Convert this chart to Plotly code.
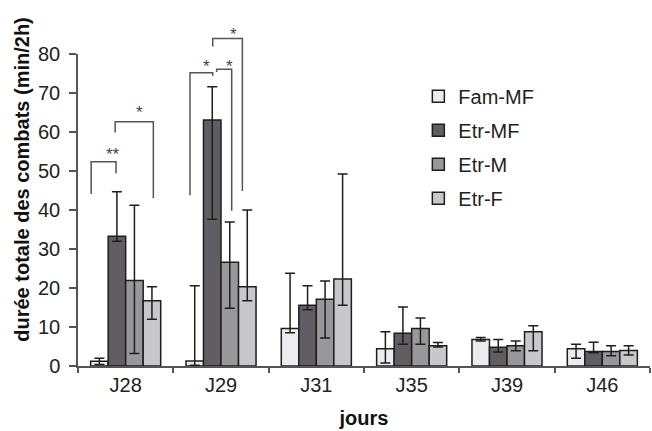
import plotly.graph_objects as go

# ---------------- data ----------------
days = ["J28", "J29", "J31", "J35", "J39", "J46"]
series_names = ["Fam-MF", "Etr-MF", "Etr-M", "Etr-F"]

fam_mf = [1.2, 1.3, 9.6, 4.4, 6.8, 4.4]
fam_mf_hi = [2.0, 20.6, 23.8, 8.8, 7.3, 5.6]
fam_mf_lo = [0.4, 0.2, 8.5, 0.8, 6.4, 2.0]

etr_mf = [33.3, 63.1, 15.6, 8.4, 4.8, 3.7]
etr_mf_hi = [44.7, 71.6, 20.6, 15.1, 6.8, 6.1]
etr_mf_lo = [32.0, 37.6, 14.4, 5.6, 3.6, 3.4]

etr_m = [21.9, 26.6, 17.1, 9.6, 5.2, 3.7]
etr_m_hi = [41.2, 36.9, 21.8, 12.3, 6.4, 5.2]
etr_m_lo = [3.2, 14.8, 7.2, 5.6, 3.9, 2.6]

etr_f = [16.7, 20.3, 22.3, 5.2, 8.8, 4.0]
etr_f_hi = [20.3, 40.0, 49.2, 6.0, 10.3, 5.2]
etr_f_lo = [12.0, 16.7, 15.6, 4.9, 3.9, 2.8]

y_ticks = [0, 10, 20, 30, 40, 50, 60, 70, 80]

# significance brackets: group, left leg (offset in bar widths), right leg,
# left leg bottom, top, right leg bottom, label, label height
brackets = [
    (0, -1.97, -0.55, 44.1, 52.4, 49.4, "**", 55.6),
    (0, -0.60, 1.58, 59.9, 62.6, 43.0, "*", 66.2),
    (1, -1.77, -0.47, 43.8, 75.2, 74.4, "*", 78.0),
    (1, -0.25, 0.61, 75.4, 76.1, 39.8, "*", 78.0),
    (1, -0.47, 1.22, 81.9, 84.0, 44.9, "*", 86.3),
]

colors = ["#ececee", "#605e63", "#98979a", "#c8c8ca"]
values = [fam_mf, etr_mf, etr_m, etr_f]
his = [fam_mf_hi, etr_mf_hi, etr_m_hi, etr_f_hi]
los = [fam_mf_lo, etr_mf_lo, etr_m_lo, etr_f_lo]

FONT = "Liberation Sans, Arial, sans-serif"
BARGAP = 0.265
YMAX = 80
bar_w = (1 - BARGAP) / 4

fig = go.Figure()
for name, col, v, hi, lo in zip(series_names, colors, values, his, los):
    fig.add_trace(go.Bar(
        name=name, x=days, y=v,
        marker=dict(color=col, line=dict(color="#1e1e1e", width=1.5)),
        error_y=dict(type="data", symmetric=False,
                     array=[h - a for h, a in zip(hi, v)],
                     arrayminus=[a - l for a, l in zip(v, lo)],
                     color="#1e1e1e", thickness=1.5, width=5),
        legendgroup=name,
    ))

def px(cat):
    return (cat + 0.5) / len(days)

def py(val):
    return val / YMAX

for g, l_off, r_off, lb, top, rb, lab, ly in brackets:
    xl = px(g + l_off * bar_w)
    xr = px(g + r_off * bar_w)
    fig.add_shape(type="path", xref="paper", yref="paper",
                  path=f"M {xl},{py(lb)} L {xl},{py(top)} L {xr},{py(top)} L {xr},{py(rb)}",
                  line=dict(color="#555555", width=1.5))
    fig.add_annotation(xref="paper", yref="paper", x=(xl + xr) / 2, y=py(ly),
                       text=lab, showarrow=False, yanchor="middle", yshift=-5,
                       font=dict(family=FONT, size=17, color="#444444"))

fig.add_annotation(xref="paper", yref="paper", x=-0.098, y=0.6,
                   text="durée totale des combats (min/2h)", textangle=-90,
                   showarrow=False, xanchor="center", yanchor="middle",
                   font=dict(family=FONT, size=20, color="#111111", weight="bold"))

fig.update_layout(
    width=652, height=431,
    margin=dict(l=78, r=2, t=54, b=65),
    paper_bgcolor="white", plot_bgcolor="white",
    barmode="group", bargap=BARGAP, bargroupgap=0,
    font=dict(family=FONT, size=20, color="#222222"),
    showlegend=True,
    legend=dict(x=0.595, y=0.927, xanchor="left", yanchor="top",
                font=dict(family=FONT, size=20, color="#222222"),
                tracegroupgap=5, bgcolor="rgba(0,0,0,0)"),
    xaxis=dict(showline=True, linecolor="#555555", linewidth=1.5,
               ticks="outside", tickson="boundaries", ticklen=5,
               tickcolor="#555555", tickwidth=1.5, showgrid=False,
               title=dict(text="jours", standoff=16,
                          font=dict(family=FONT, size=20, weight="bold", color="#111111"))),
    yaxis=dict(range=[0, YMAX], tickvals=y_ticks, showline=True,
               linecolor="#555555", linewidth=1.5, ticks="outside",
               ticklen=7, tickcolor="#555555", tickwidth=1.5,
               ticklabelstandoff=5,
               showgrid=False, zeroline=False),
)

fig.write_html("out.html", config={"displayModeBar": False},
               post_script="document.body.style.margin='0';")
